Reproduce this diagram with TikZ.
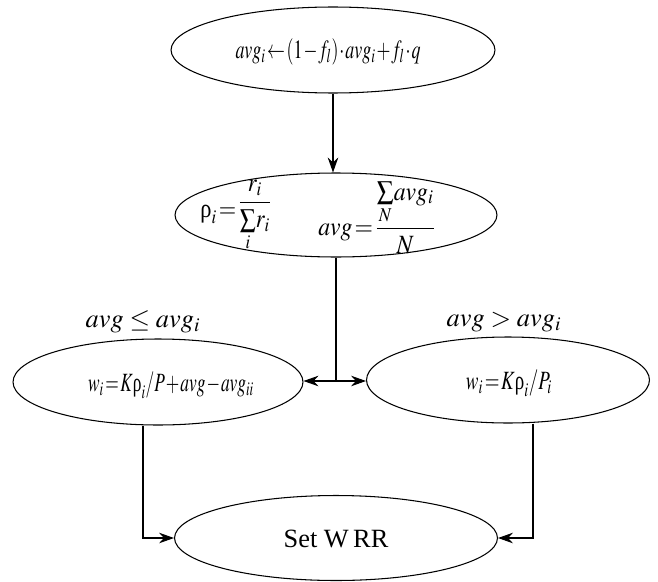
\documentclass[tikz,border=0pt]{standalone}
\usepackage{mathptmx}
\usepackage{graphicx}
\usepackage{fontspec}
\setmainfont{Liberation Serif}
\usetikzlibrary{arrows.meta,calc,shapes.geometric}
\newcommand{\urho}{\textrm{ρ}}
\newcommand{\avgw}{a\!v\!g}
\newcommand{\tightm}{\medmuskip=1mu\relax\thickmuskip=1.5mu\relax\thinmuskip=0mu\relax}
\newcommand{\cf}[2][0.72]{\scalebox{#1}[1]{\tightm$#2$}}
\tikzset{
  ell/.style={draw, ellipse, inner sep=0pt, line width=0.6pt},
  frm/.style={inner sep=0pt, font=\fontsize{15}{18}\selectfont},
  arr/.style={-{Stealth[length=8.5pt,width=6pt]}, line width=0.6pt},
  conn/.style={line width=0.6pt},
  lbl/.style={inner sep=0pt, font=\fontsize{15}{18}\selectfont}
}
\begin{document}
\begin{tikzpicture}[x=0.02cm,y=-0.02cm]
\useasboundingbox (0,0) rectangle (658,581);
\node[ell, minimum width=6.48cm, minimum height=1.72cm] (T) at (333,50) {};
\node[frm] (Tt) at (328,52)
  {\cf[0.68]{\avgw_i \leftarrow\!(1\!-\!f_l)\!\cdot\! \avgw_i+f_l\!\cdot\! q}};
\node[ell, minimum width=6.44cm, minimum height=1.68cm] (M) at (336,215) {};
\node[frm, anchor=base west] (M1) at (200,217)
  {\cf[0.85]{\urho_i=\raisebox{4.5pt}{\tightm$\displaystyle\frac{r_i}{\textstyle\sum\limits_i r_i}$}}};
\node[frm, anchor=base west] (M2) at (318,235)
  {\cf[0.9]{\avgw=\displaystyle\frac{\textstyle\sum\limits_N \avgw_i}{N}}};
\node[ell, minimum width=5.8cm, minimum height=1.72cm] (L) at (158,382) {};
\node[frm] (Lt) at (171,385)
  {\cf[0.66]{w_i\!=\!K\urho_i\,/\,P\!+\!\avgw\!-\!\avgw_{ii}}};
\node[ell, minimum width=5.66cm, minimum height=1.72cm] (R) at (508,380) {};
\node[frm] (Rt) at (509,383)
  {\cf[0.72]{w_i\!=\!K\urho_i\,/\,P_i}};
\node[ell, minimum width=6.46cm, minimum height=1.70cm] (B) at (336,538) {};
\node[lbl] (Bt) at (336,539) {Set W\,RR};
\node[lbl] (LL) at (143,322) {$avg\le avg_i$};
\node[lbl] (RL) at (504,322) {$avg> avg_i$};
\coordinate (J) at (336,381);
\draw[arr] (T.south) -- (T.south |- M.north);
\draw[conn] (M.south) -- (J);
\draw[arr] (J) -- (J -| L.east);
\draw[arr] (J) -- (J -| R.west);
\draw[arr] ($(L.south)+(-15,0)$) |- (B.west);
\draw[arr] ($(R.south)+(25,0)$) |- (B.east);
\end{tikzpicture}
\end{document}
